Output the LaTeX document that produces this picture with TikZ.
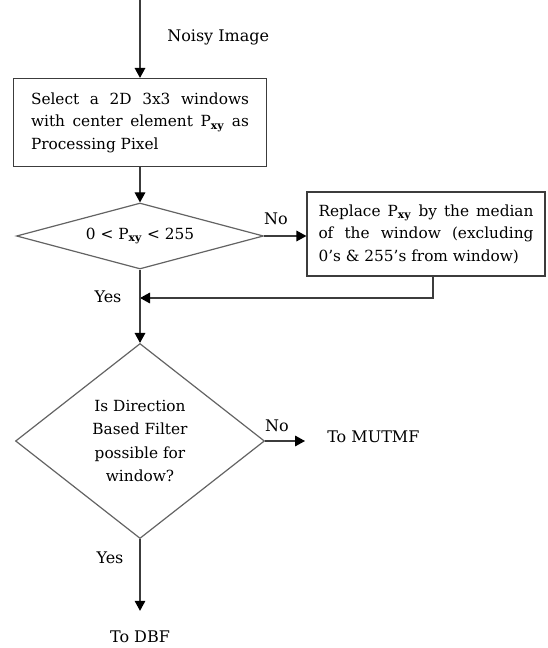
\documentclass[tikz,border=0pt]{standalone}
\usepackage{fontspec}
\setmainfont{DejaVu Serif}
\usepackage{xcolor}
\usepackage{tikz}
\usetikzlibrary{shapes}
\usetikzlibrary{arrows.meta}

\definecolor{flowline}{RGB}{60,60,60}

\tikzset{
  procbox/.style={draw=flowline, line width=0.9pt, rectangle, align=justify, font=\fontsize{11.5}{16.9}\selectfont},
  decide/.style={draw=flowline!80, line width=0.9pt, diamond, inner sep=0pt, align=center, font=\fontsize{11.5}{17.6}\selectfont},
  lbl/.style={inner sep=0pt, font=\fontsize{12}{14}\selectfont},
  flow/.style={draw=flowline, line width=0.9pt, -{Triangle[length=7.5pt,width=8pt,color=black]}},
}

\begin{document}
\begin{tikzpicture}[x=0.75pt,y=0.75pt,yscale=-1,xscale=1]
\path[use as bounding box] (0,0) rectangle (547,648);

%Shape: Rectangle [id:select]
\node[procbox, text width=163.5pt, minimum width=189.75pt, minimum height=66pt] (select) at (140,122.5) {Select a 2D 3x3 windows\linebreak with center element P\textsubscript{\textbf{xy}} as\linebreak Processing Pixel};
%Shape: Diamond [id:range]
\node[decide, aspect=3.7, minimum width=185.25pt, minimum height=49.5pt] (range) at (140,236) {0 < P\textsubscript{\textbf{xy}} < 255};
%Shape: Rectangle [id:replace]
\node[procbox, text width=161.25pt, minimum width=178.5pt, minimum height=63pt] (replace) at (426,234) {\parfillskip=0pt Replace P\textsubscript{\textbf{xy}} by the median\linebreak of the window (excluding\linebreak 0's \& 255's from window)};
%Shape: Diamond [id:dbfq]
\node[decide, aspect=1.28, minimum width=186.75pt, minimum height=146.25pt] (dbfq) at (140,441) {Is Direction\\Based Filter\\possible for\\window?};

% Text Node
\node[lbl, anchor=west] (noisy) at (167,37) {Noisy Image};
% Text Node
\node[lbl] (no1) at (276,219) {No};
% Text Node
\node[lbl] (yes1) at (108,297) {Yes};
% Text Node
\node[lbl] (no2) at (277,426) {No};
% Text Node
\node[lbl] (yes2) at (110,558) {Yes};
% Text Node
\node[lbl, anchor=west] (mutmf) at (327,437) {To MUTMF};
% Text Node
\node[lbl] (dbf) at (140,637) {To DBF};

\coordinate (input) at (140,0);
\coordinate (merge) at (433,298);

%Straight Lines
\draw[flow] (input) -- (input |- select.north);
%Straight Lines
\draw[flow] (select.south) -- (range.north);
%Straight Lines
\draw[flow] (range.east) -- (range.east -| replace.west);
%Straight Lines
\draw[flow] (replace.south -| merge) -- (merge) -- (merge -| range.south);
%Straight Lines
\draw[flow] (range.south) -- (dbfq.north);
%Straight Lines
\draw[flow, shorten >=16.5pt] (dbfq.east) -- (dbfq.east -| mutmf.west);
%Straight Lines
\draw[flow, shorten >=15pt] (dbfq.south) -- (dbfq.south |- dbf.north);

\end{tikzpicture}
\end{document}
